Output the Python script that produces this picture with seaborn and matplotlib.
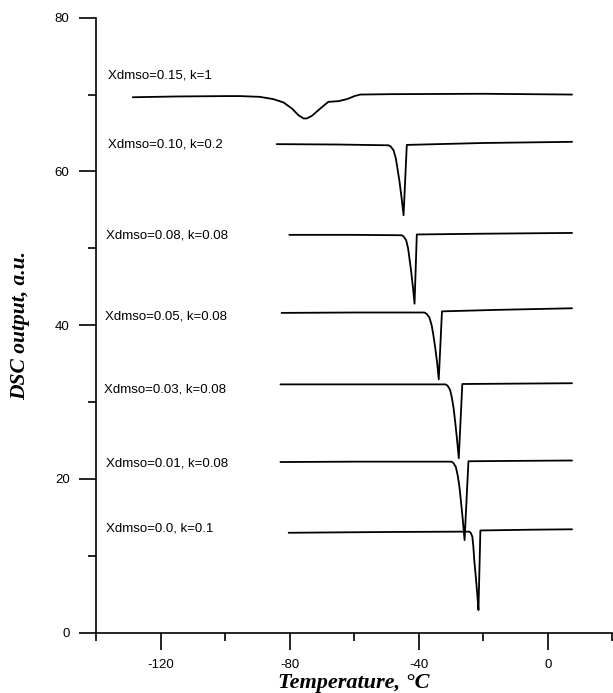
import matplotlib
matplotlib.use("Agg")
import matplotlib.pyplot as plt
import seaborn as sns
import pandas as pd

# ---- data ----
labels = ["Xdmso=0.15, k=1", "Xdmso=0.10, k=0.2", "Xdmso=0.08, k=0.08",
          "Xdmso=0.05, k=0.08", "Xdmso=0.03, k=0.08", "Xdmso=0.01, k=0.08",
          "Xdmso=0.0, k=0.1"]
label_T = [-136.4, -136.2, -136.8, -137.3, -137.6, -136.8, -137.0]
label_V = [72.5, 63.5, 51.7, 41.1, 31.6, 22.0, 13.6]

c1_T = [-128.6, -115, -100, -95.4, -89.2, -85.0, -81.9, -79.3, -77.3, -75.7, -74.7,
        -73.1, -71.1, -69.0, -68.0, -64.9, -62.3, -59.7, -58.1, -48.8, -20, 7.5]
c1_V = [69.65, 69.75, 69.8, 69.8, 69.7, 69.4, 68.97, 68.19, 67.32, 66.89, 66.89,
        67.23, 67.97, 68.71, 69.05, 69.14, 69.4, 69.83, 70.0, 70.05, 70.1, 70.0]

c2_T = [-84.0, -65, -49.4, -48.7, -47.8, -47.1, -46.6, -45.95, -45.3, -44.7, -43.7, -20, 7.5]
c2_V = [63.55, 63.5, 63.4, 63.25, 62.75, 61.7, 60.4, 58.65, 56.5, 54.3, 63.45, 63.7, 63.85]

c3_T = [-80.1, -60, -45.3, -44.7, -43.9, -43.3, -42.9, -42.35, -41.8, -41.3, -40.6, -20, 7.5]
c3_V = [51.75, 51.75, 51.7, 51.55, 51.05, 50.0, 48.75, 47.0, 44.95, 42.8, 51.8, 51.9, 52.0]

c4_T = [-82.5, -60, -38.3, -37.6, -36.7, -36.0, -35.5, -34.9, -34.3, -33.8, -32.8, -15, 7.5]
c4_V = [41.6, 41.65, 41.65, 41.5, 41.0, 40.0, 38.8, 37.1, 35.1, 32.95, 41.8, 42.0, 42.2]

c5_T = [-82.85, -60, -31.7, -31.1, -30.3, -29.7, -29.2, -28.7, -28.15, -27.6, -26.5, -10, 7.5]
c5_V = [32.3, 32.3, 32.3, 32.15, 31.6, 30.5, 29.2, 27.4, 25.2, 22.7, 32.35, 32.4, 32.45]

c6_T = [-82.85, -60, -29.9, -29.3, -28.5, -27.9, -27.4, -26.9, -26.35, -25.8, -24.6, -10, 7.5]
c6_V = [22.2, 22.25, 22.25, 22.1, 21.55, 20.4, 19.0, 17.0, 14.7, 12.05, 22.3, 22.35, 22.4]

c7_T = [-80.3, -50, -24.4, -23.9, -23.4, -23.1, -22.8, -22.35, -21.9, -21.5, -20.9, -5, 7.5]
c7_V = [13.0, 13.1, 13.15, 13.0, 12.5, 11.3, 9.45, 7.4, 5.2, 2.95, 13.3, 13.4, 13.45]

curves = [(c1_T, c1_V), (c2_T, c2_V), (c3_T, c3_V), (c4_T, c4_V),
          (c5_T, c5_V), (c6_T, c6_V), (c7_T, c7_V)]

x_major = [-120, -80, -40, 0]
x_minor = [-140, -100, -60, -20, 20]
y_major = [0, 20, 40, 60, 80]
y_minor = [10, 30, 50, 70]

# ---- style ----
sns.set_theme(style="ticks")
plt.rcParams['font.family'] = ['Liberation Sans', 'DejaVu Sans']
plt.rcParams['axes.unicode_minus'] = False

fig = plt.figure(figsize=(6.13, 6.93), dpi=100)
ax = fig.add_axes([0.1566, 0.087, 0.8424, 0.8875])

for i, (T, V) in enumerate(curves):
    df = pd.DataFrame({"T": T, "V": V})
    sns.lineplot(data=df, x="T", y="V", ax=ax, color="black", lw=1.3,
                 sort=False, estimator=None)

for txt, t, v in zip(labels, label_T, label_V):
    ax.text(t, v, txt, fontsize=9.5, ha="left", va="center", color="black")

ax.set_xlim(-140, 20)
ax.set_ylim(0, 80)
sns.despine(ax=ax)
for s in ["left", "bottom"]:
    ax.spines[s].set_linewidth(1.2)
    ax.spines[s].set_color("black")

ax.set_xticks(x_major)
ax.set_xticks(x_minor, minor=True)
ax.set_yticks(y_major)
ax.set_yticks(y_minor, minor=True)
ax.tick_params(which="major", length=12, width=1.2, direction="out",
               labelsize=9.5, pad=7, color="black", labelcolor="black")
ax.tick_params(which="minor", length=6, width=1.2, direction="out", color="black")

ax.set_xlabel("Temperature, °C", fontsize=16, fontweight="bold",
              fontstyle="italic", family=["Liberation Serif", "DejaVu Serif"], color="black")
ax.set_ylabel("DSC output, a.u.", fontsize=15.5, fontweight="bold",
              fontstyle="italic", family=["Liberation Serif", "DejaVu Serif"], color="black")
ax.xaxis.set_label_coords(0.5, -0.0818)
ax.xaxis.label.set_va("center")
ax.yaxis.set_label_coords(-0.1472, 0.5)
ax.yaxis.label.set_va("center")
ax.yaxis.label.set_ha("center")

fig.savefig("out.png", dpi=100)
